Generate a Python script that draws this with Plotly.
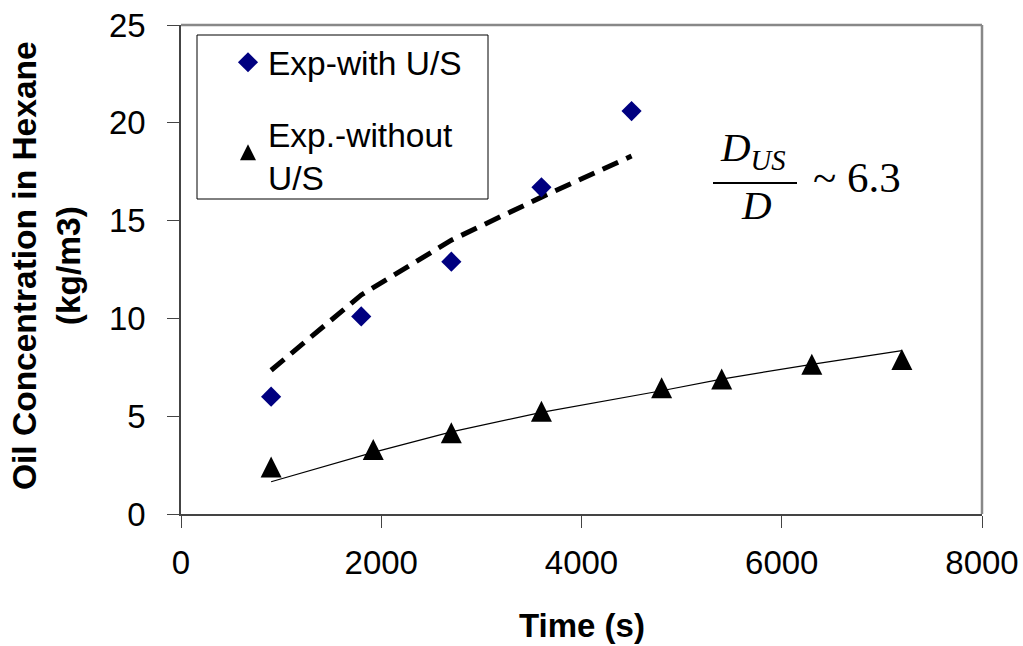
import plotly.graph_objects as go

# ---- data ----
time_us = [900, 1800, 2700, 3600, 4500]
conc_us = [6.0, 10.1, 12.9, 16.7, 20.6]
model_us = [7.35, 11.2, 14.0, 16.2, 18.3]

time_no = [900, 1920, 2700, 3600, 4800, 5400, 6300, 7200]
conc_no = [2.4, 3.3, 4.15, 5.25, 6.45, 6.9, 7.65, 7.9]
model_no = [1.65, 3.15, 4.2, 5.2, 6.3, 6.9, 7.65, 8.35]

x_ticks = [0, 2000, 4000, 6000, 8000]
y_ticks = [0, 5, 10, 15, 20, 25]

W, H = 1023, 646
L, R, T, B = 181, 41, 25, 132
pw, ph = W - L - R, H - T - B


def px(xp):
    return (xp - L) / pw


def py(yp):
    return (H - B - yp) / ph


SANS = "Liberation Sans, Arial, sans-serif"
SERIF = "Liberation Serif, Times New Roman, serif"

fig = go.Figure()

fig.add_trace(go.Scatter(
    x=time_us, y=model_us, mode="lines", showlegend=False,
    line=dict(color="black", width=5, dash="17px,9px"), hoverinfo="skip"))
fig.add_trace(go.Scatter(
    x=time_no, y=model_no, mode="lines", showlegend=False,
    line=dict(color="black", width=1.2), hoverinfo="skip"))

fig.add_trace(go.Scatter(
    x=time_us, y=conc_us, mode="markers", name="Exp-with U/S",
    legendgroup="a",
    marker=dict(symbol="diamond", size=15.5, color="#000080")))
fig.add_trace(go.Scatter(
    x=time_no, y=conc_no, mode="markers", name="Exp.-without<br>U/S",
    legendgroup="b",
    marker=dict(symbol="arrow-down", angle=180, standoff=10.5, size=21,
                color="black")))

axis_common = dict(
    showgrid=False, zeroline=False, showline=True, linecolor="#444",
    linewidth=1.5, ticks="outside", ticklen=12, tickwidth=1,
    tickcolor="#444", tickfont=dict(family=SANS, size=33, color="black"),
    automargin=False,
)

fig.update_xaxes(range=[0, 8000], tickvals=x_ticks,
                 ticktext=[str(v) for v in x_ticks],
                 ticklabelstandoff=7, **axis_common)
fig.update_yaxes(range=[0, 25], tickvals=y_ticks,
                 ticktext=[str(v) for v in y_ticks],
                 ticklabelstandoff=15, **axis_common)

shapes = [
    # grey plot-area frame on top and right
    dict(type="line", xref="paper", yref="paper", x0=0, x1=1, y0=1, y1=1,
         line=dict(color="#888", width=2.5)),
    dict(type="line", xref="paper", yref="paper", x0=1, x1=1, y0=0, y1=1,
         line=dict(color="#888", width=2.5)),
    # legend box
    dict(type="rect", xref="paper", yref="paper",
         x0=px(197), x1=px(488), y0=py(199), y1=py(35),
         line=dict(color="black", width=1), fillcolor="white", layer="below"),
    # fraction bar
    dict(type="line", xref="paper", yref="paper",
         x0=px(713), x1=px(797), y0=py(183), y1=py(183),
         line=dict(color="black", width=2)),
]

annotations = [
    dict(text="<b>Oil Concentration in Hexane<br>(kg/m3)</b>", textangle=-90,
         xref="paper", yref="paper", x=px(46), y=py(266),
         xanchor="center", yanchor="middle", showarrow=False,
         font=dict(family=SANS, size=33.5, color="black")),
    dict(text="<b>Time (s)</b>", xref="paper", yref="paper",
         x=px(582), y=py(625), xanchor="center", yanchor="middle",
         showarrow=False, font=dict(family=SANS, size=33, color="black")),
    dict(text="<i>D<sub>US</sub></i>", xref="paper", yref="paper",
         x=px(753), y=py(150), xanchor="center", yanchor="middle",
         showarrow=False, font=dict(family=SERIF, size=41, color="black")),
    dict(text="<i>D</i>", xref="paper", yref="paper",
         x=px(756), y=py(205), xanchor="center", yanchor="middle",
         showarrow=False, font=dict(family=SERIF, size=41, color="black")),
    dict(text="~ 6.3", xref="paper", yref="paper",
         x=px(857), y=py(177), xanchor="center", yanchor="middle",
         showarrow=False, font=dict(family=SERIF, size=43, color="black")),
]

fig.update_layout(
    width=W, height=H,
    margin=dict(l=L, r=R, t=T, b=B, pad=0, autoexpand=False),
    paper_bgcolor="white", plot_bgcolor="white",
    shapes=shapes, annotations=annotations,
    legend=dict(x=px(228), y=py(34), xanchor="left", yanchor="top",
                bgcolor="rgba(0,0,0,0)", borderwidth=0, valign="top",
                tracegroupgap=25,
                font=dict(family=SANS, size=33.5, color="black")),
)

fig.write_html("out.html")
